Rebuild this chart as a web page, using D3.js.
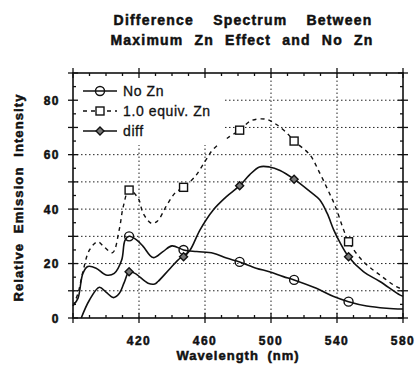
<!DOCTYPE html>
<html>
<head>
<meta charset="utf-8">
<script src="https://cdn.jsdelivr.net/npm/d3@7"></script>
<style>
  body { margin: 0; background: #fff; }
  text { font-family: "Liberation Sans", Arial, Helvetica, sans-serif; fill: #111; }
  .heavy { stroke: #111; stroke-width: 0.5px; }
</style>
</head>
<body>
<div id="chart"></div>
<script>
// Curves (wavelength nm, intensity)
const noZnX = [380, 383, 386, 389, 394, 400, 405, 409.5, 411.5, 414, 418.5, 422.5, 428.5, 434.5, 440, 447, 455, 465, 473, 481, 491, 499, 507.5, 514, 527.5, 538, 547, 558, 570, 580];
const noZnY = [4.5, 7.2, 16.4, 18.9, 18.3, 15.8, 16.4, 21.3, 28.5, 30, 28.7, 26.3, 22.2, 24.4, 26.5, 25, 24.4, 23.8, 22, 20.6, 18.3, 17, 15.2, 14, 10.9, 7.9, 6, 4.4, 3.6, 3.3];

const znX = [380, 383, 386, 390, 395, 399, 404, 408, 410.5, 414, 419.5, 422.5, 427.5, 431, 437, 442, 447, 454, 460, 465, 475, 481, 488, 497, 503.5, 510.5, 514, 523.5, 529.5, 534.5, 539, 544, 547, 556, 566, 576, 580];
const znY = [4.5, 9, 17, 25, 28, 26, 24, 32.4, 41, 47, 44, 38.5, 34.8, 35.5, 41.6, 46, 48, 52, 57.5, 62, 66.7, 69, 72.5, 73, 71, 67.4, 65, 60, 53.3, 47, 41, 32.4, 28, 20.7, 15.8, 11.5, 10.5];

const diffX = [385, 390, 396, 400, 404.5, 408, 411, 414, 417.5, 425.5, 429.5, 431.5, 439, 445, 447, 451, 457, 465, 473, 481, 487, 493, 499, 505.5, 514, 523.5, 529.5, 534, 538, 542, 547, 556, 566, 578, 580];
const diffY = [0, 6.6, 11.3, 9.5, 7.5, 9, 13, 17, 16.4, 12.8, 12.5, 13.4, 18.3, 22, 22.5, 25, 32.4, 39.7, 44.6, 48.6, 52.6, 55.5, 55.5, 54.2, 51, 46.5, 43.4, 38.5, 32.4, 27.5, 22.5, 17, 13.4, 8.5, 8];

// Marker positions
const markX = [414, 447, 481, 514, 547];
const noZnMarks = [30, 25, 20.6, 14, 6];
const znMarks = [47, 48, 69, 65, 28];
const diffMarks = [17, 22.5, 48.6, 51, 22.5];

const xTicks = [420, 460, 500, 540, 580];
const yTicks = [0, 20, 40, 60, 80];

const width = 419, height = 367;
const margin = { left: 73, right: 16, top: 73, bottom: 49 };

const svg = d3.select('#chart').append('svg')
  .attr('width', width)
  .attr('height', height);

const x = d3.scaleLinear().domain([380, 580]).range([margin.left, width - margin.right]);
const y = d3.scaleLinear().domain([0, 90]).range([height - margin.bottom, margin.top]);

const x0 = x.range()[0], x1 = x.range()[1];
const y0 = y.range()[0], y1 = y.range()[1];

// dotted grid
const grid = svg.append('g')
  .attr('stroke', '#222')
  .attr('stroke-width', 1)
  .attr('stroke-dasharray', '1.5,2.5');

grid.selectAll('.gy')
  .data(d3.range(10, 90, 10))
  .enter().append('line')
  .attr('x1', x0).attr('x2', x1)
  .attr('y1', d => y(d)).attr('y2', d => y(d));

grid.selectAll('.gx')
  .data([420, 460, 500, 540])
  .enter().append('line')
  .attr('y1', y0).attr('y2', y1)
  .attr('x1', d => x(d)).attr('x2', d => x(d));

// curves
const line = d3.line()
  .x(d => x(d[0]))
  .y(d => y(d[1]))
  .curve(d3.curveCatmullRom.alpha(0.5));

const curves = svg.append('g').attr('fill', 'none').attr('stroke', '#111');

curves.append('path')
  .attr('d', line(d3.zip(znX, znY)))
  .attr('stroke-width', 1.4)
  .attr('stroke-dasharray', '4,4');

curves.append('path')
  .attr('d', line(d3.zip(noZnX, noZnY)))
  .attr('stroke-width', 1.6);

curves.append('path')
  .attr('d', line(d3.zip(diffX, diffY)))
  .attr('stroke-width', 1.6);

// marker helpers
function circleMark(g, cx, cy) {
  g.append('circle').attr('cx', cx).attr('cy', cy).attr('r', 4.5)
    .attr('fill', 'none').attr('stroke', '#111').attr('stroke-width', 1.4);
}
function squareMark(g, cx, cy) {
  g.append('rect').attr('x', cx - 4).attr('y', cy - 4).attr('width', 8).attr('height', 8)
    .attr('fill', '#fff').attr('stroke', '#111').attr('stroke-width', 1.4);
}
function diamondMark(g, cx, cy) {
  g.append('path')
    .attr('d', `M${cx},${cy - 4}L${cx + 4},${cy}L${cx},${cy + 4}L${cx - 4},${cy}Z`)
    .attr('fill', '#777').attr('stroke', '#111').attr('stroke-width', 1.4);
}

const marks = svg.append('g');
markX.forEach((m, i) => {
  circleMark(marks, x(m), y(noZnMarks[i]));
  squareMark(marks, x(m), y(znMarks[i]));
  diamondMark(marks, x(m), y(diffMarks[i]));
});

// legend (white box hides grid)
const legend = svg.append('g');
legend.append('rect')
  .attr('x', x0 + 1).attr('y', y1 + 1)
  .attr('width', 151).attr('height', 71)
  .attr('fill', '#fff');

const legendItems = [
  { label: 'No Zn', dash: null, mark: circleMark },
  { label: '1.0 equiv. Zn', dash: '4,4', mark: squareMark },
  { label: 'diff', dash: null, mark: diamondMark }
];
legendItems.forEach((d, i) => {
  const ly = 91 + i * 20;
  legend.append('line')
    .attr('x1', 83).attr('x2', 117).attr('y1', ly).attr('y2', ly)
    .attr('stroke', '#111').attr('stroke-width', 1.5)
    .attr('stroke-dasharray', d.dash);
  d.mark(legend, 100, ly);
  legend.append('text')
    .attr('x', 123).attr('y', ly + 5)
    .attr('font-size', 14)
    .attr('letter-spacing', 0.6)
    .attr('stroke', '#111').attr('stroke-width', 0.3)
    .text(d.label);
});

// frame
svg.append('rect')
  .attr('x', x0).attr('y', y1)
  .attr('width', x1 - x0).attr('height', y0 - y1)
  .attr('fill', 'none').attr('stroke', '#111').attr('stroke-width', 1.6);

// ticks on all four sides
const ticks = svg.append('g').attr('stroke', '#111').attr('stroke-width', 1.3);
d3.range(380, 581, 10).forEach(v => {
  const major = (v - 380) % 40 === 0;
  const px = x(v);
  if (major) {
    ticks.append('line').attr('x1', px).attr('x2', px).attr('y1', y0 - 5).attr('y2', y0 + 5);
    ticks.append('line').attr('x1', px).attr('x2', px).attr('y1', y1 - 5).attr('y2', y1 + 5);
  } else {
    ticks.append('line').attr('x1', px).attr('x2', px).attr('y1', y0 - 3).attr('y2', y0);
    ticks.append('line').attr('x1', px).attr('x2', px).attr('y1', y1).attr('y2', y1 + 3);
  }
});
d3.range(0, 91, 5).forEach(v => {
  const major = v % 10 === 0;
  const py = y(v);
  if (major) {
    ticks.append('line').attr('x1', x0 - 5).attr('x2', x0 + 5).attr('y1', py).attr('y2', py);
    ticks.append('line').attr('x1', x1 - 5).attr('x2', x1 + 5).attr('y1', py).attr('y2', py);
  } else {
    ticks.append('line').attr('x1', x0).attr('x2', x0 + 3).attr('y1', py).attr('y2', py);
    ticks.append('line').attr('x1', x1 - 3).attr('x2', x1).attr('y1', py).attr('y2', py);
  }
});

// tick labels
svg.append('g').selectAll('text')
  .data(xTicks).enter().append('text')
  .attr('class', 'heavy')
  .attr('x', d => x(d)).attr('y', y0 + 27)
  .attr('text-anchor', 'middle')
  .attr('font-size', 12).attr('font-weight', 'bold').attr('letter-spacing', 1.5)
  .text(d => d);

svg.append('g').selectAll('text')
  .data(yTicks).enter().append('text')
  .attr('class', 'heavy')
  .attr('x', x0 - 13).attr('y', d => y(d) + 4.5)
  .attr('text-anchor', 'end')
  .attr('font-size', 12).attr('font-weight', 'bold').attr('letter-spacing', 1.5)
  .text(d => d);

// axis titles
svg.append('text')
  .attr('class', 'heavy')
  .attr('x', (x0 + x1) / 2).attr('y', 360)
  .attr('text-anchor', 'middle')
  .attr('font-size', 13).attr('font-weight', 'bold').attr('letter-spacing', 1)
  .attr('word-spacing', 4)
  .text('Wavelength (nm)');

svg.append('text')
  .attr('class', 'heavy')
  .attr('transform', `translate(23,${(y0 + y1) / 2 + 2}) rotate(-90)`)
  .attr('text-anchor', 'middle')
  .attr('font-size', 13).attr('font-weight', 'bold').attr('letter-spacing', 1.1)
  .attr('word-spacing', 5)
  .text('Relative Emission Intensity');

// chart title
const title = svg.append('g').attr('text-anchor', 'middle').attr('class', 'heavy')
  .attr('font-size', 14).attr('font-weight', 'bold').attr('letter-spacing', 1.2);
title.append('text').attr('x', 243).attr('y', 25).attr('word-spacing', 14)
  .text('Difference Spectrum Between');
title.append('text').attr('x', 242).attr('y', 45).attr('word-spacing', 6)
  .text('Maximum Zn Effect and No Zn');
</script>
</body>
</html>
